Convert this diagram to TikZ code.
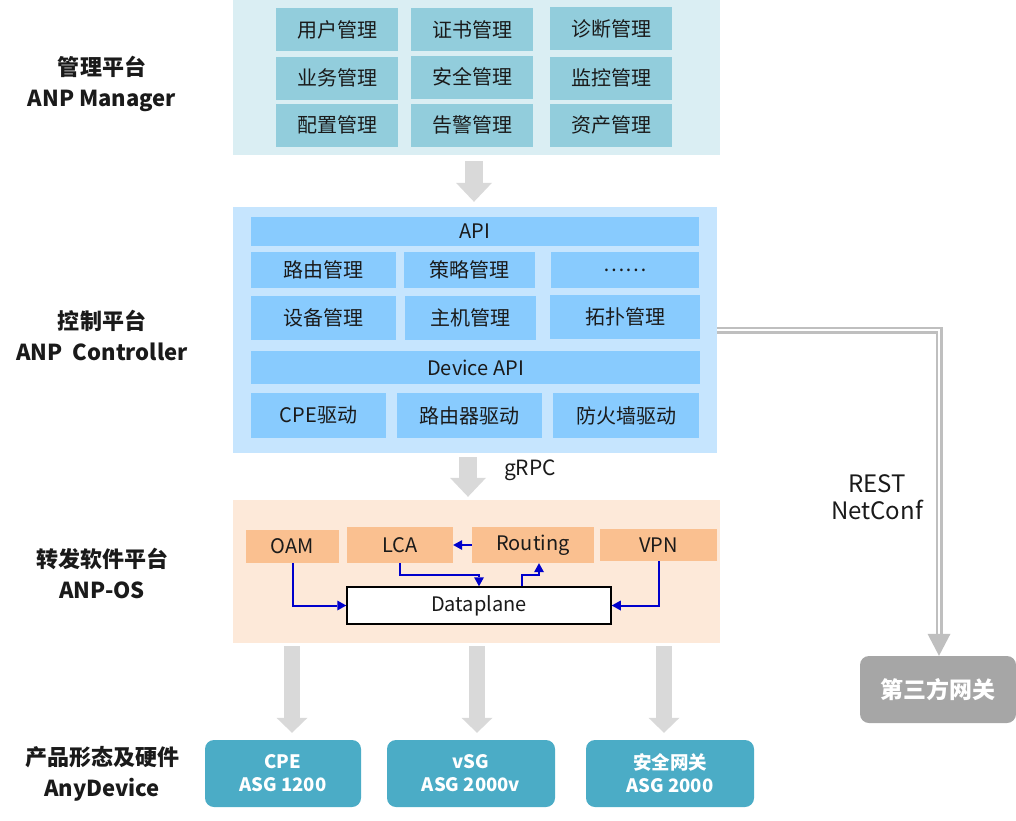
\documentclass[tikz,border=0pt]{standalone}
\usepackage{fontspec}
\setmainfont{Noto Sans CJK SC}
\usetikzlibrary{arrows.meta,calc,positioning}
\definecolor{mgrback}{HTML}{DAEEF3}
\definecolor{mgrfill}{HTML}{92CDDC}
\definecolor{ctlback}{HTML}{C6E5FE}
\definecolor{ctlfill}{HTML}{88CBFE}
\definecolor{osback}{HTML}{FDE9D9}
\definecolor{osfill}{HTML}{FAC090}
\definecolor{devfill}{HTML}{4BACC6}
\definecolor{gwfill}{HTML}{A6A6A6}
\definecolor{arrowgray}{HTML}{D9D9D9}
\definecolor{restgray}{HTML}{BFBFBF}
\definecolor{flowblue}{HTML}{0000CC}
\definecolor{txt}{HTML}{1A1A1A}

\begin{document}
\begin{tikzpicture}[x=1pt, y=-1pt,
	panel/.style={rectangle, inner sep=0pt},
	mod/.style={rectangle, inner sep=0pt, text=txt, font=\fontsize{20}{24}\selectfont},
	mgrmod/.style={mod, fill=mgrfill, minimum width=122pt, minimum height=43pt},
	ctlmod/.style={mod, fill=ctlfill},
	osmod/.style={mod, fill=osfill},
	tier/.style={align=center, text=txt, font=\bfseries\fontsize{22}{31}\selectfont},
	dev/.style={rectangle, rounded corners=9pt, fill=devfill, text=white, align=center, minimum height=67pt, font=\bfseries\fontsize{18.5}{23}\selectfont},
	bigarrow/.style={arrowgray, line width=18pt, -{Triangle[width=36pt,length=19pt,line width=0pt]}},
	downarrow/.style={arrowgray, line width=16pt, -{Triangle[width=31pt,length=15pt,line width=0pt]}},
	flow/.style={flowblue, line width=2pt, -{Triangle[width=10pt,length=9pt,line width=0pt]}},
	restline/.style={draw=restgray, line width=2.2pt, double=white, double distance=2.6pt},
	]
	\useasboundingbox (0,0) rectangle (1016,820);

	% tier labels
	\node[tier] (tmgr) at (102,83.5) {管理平台\\ANP Manager};
	\node[tier] (tctl) at (102,335.5) {控制平台\\ANP\ \ Controller};
	\node[tier] (tos) at (102,573.5) {转发软件平台\\ANP-OS};
	\node[tier] (tdev) at (102,773.5) {产品形态及硬件\\AnyDevice};

	% manager
	\node[panel, fill=mgrback, minimum width=487pt, minimum height=155pt] (mgr) at (476.5,77.5) {};
	\node[mgrmod] (user) at (337,29.5) {用户管理};
	\node[mgrmod] (cert) at (472,29.5) {证书管理};
	\node[mgrmod] (diag) at (611,28.5) {诊断管理};
	\node[mgrmod] (svc) at (337,78) {业务管理};
	\node[mgrmod] (sec) at (472,77) {安全管理};
	\node[mgrmod] (mon) at (611,78) {监控管理};
	\node[mgrmod] (conf) at (337,125) {配置管理};
	\node[mgrmod] (alarm) at (472,125) {告警管理};
	\node[mgrmod] (asset) at (611,125) {资产管理};

	% controller
	\node[panel, fill=ctlback, minimum width=484pt, minimum height=246pt] (ctl) at (475,330) {};
	\node[ctlmod, minimum width=448pt, minimum height=29pt] (api) at (475,231.5) {API};
	\node[ctlmod, minimum width=145pt, minimum height=36pt] (route) at (323.5,270) {路由管理};
	\node[ctlmod, minimum width=131pt, minimum height=36pt] (policy) at (469.5,270) {策略管理};
	\node[ctlmod, minimum width=148pt, minimum height=36pt] (more) at (625,270) {……};
	\node[ctlmod, minimum width=145pt, minimum height=44pt] (equip) at (323.5,318) {设备管理};
	\node[ctlmod, minimum width=131pt, minimum height=44pt] (host) at (470.5,318) {主机管理};
	\node[ctlmod, minimum width=150pt, minimum height=44pt] (topo) at (625,317) {拓扑管理};
	\node[ctlmod, minimum width=449pt, minimum height=33pt] (devapi) at (475.5,367.5) {Device API};
	\node[ctlmod, minimum width=135pt, minimum height=45pt] (cpedrv) at (318.5,415.5) {CPE驱动};
	\node[ctlmod, minimum width=145pt, minimum height=45pt] (rtdrv) at (469.5,415.5) {路由器驱动};
	\node[ctlmod, minimum width=146pt, minimum height=45pt] (fwdrv) at (626,415.5) {防火墙驱动};

	% forwarding os
	\node[panel, fill=osback, minimum width=487pt, minimum height=143pt] (os) at (476.5,571.5) {};
	\node[osmod, minimum width=93pt, minimum height=33pt] (oam) at (292.5,546.5) {OAM};
	\node[osmod, minimum width=106pt, minimum height=36pt] (lca) at (400,545) {LCA};
	\node[osmod, minimum width=122pt, minimum height=36pt] (rt) at (533,545) {Routing};
	\node[osmod, minimum width=117pt, minimum height=32pt] (vpn) at (658.5,545) {VPN};
	\node[mod, draw=black, line width=1.5pt, fill=white, minimum width=264pt, minimum height=37pt] (dp) at (479,605.5) {Dataplane};

	\draw[flow] (oam.south) |- (dp.west);
	\draw[flow] (lca.south) -- ++(0,12) -| (dp.north);
	\draw[flow] ([xshift=43pt]dp.north) -- ++(0,-11) -| ([xshift=6pt]rt.south);
	\draw[flow] (rt.west) -- (lca.east);
	\draw[flow] (vpn.south) |- (dp.east);

	% devices
	\node[dev, minimum width=156pt] (cpe) at (283,773.5) {CPE\\ASG 1200};
	\node[dev, minimum width=168pt] (vsg) at (471,773.5) {vSG\\ASG 2000v};
	\node[dev, minimum width=168pt] (secgw) at (670,773.5) {安全网关\\ASG 2000};
	\node[dev, fill=gwfill, minimum width=156pt, font=\bfseries\fontsize{23}{26}\selectfont] (gw) at (938,689.5) {第三方网关};

	% layer arrows
	\draw[bigarrow] ($(mgr.south)+(-2.5,6)$) -- ($(ctl.north)+(-1,-5)$);
	\draw[bigarrow] ($(ctl.south)+(-7,4)$) -- ($(os.north)+(-8.5,-3)$);
	\node[text=txt, font=\fontsize{21}{24}\selectfont] (grpc) at (530,470) {gRPC};
	\draw[downarrow] ($(os.south -| cpe.north)+(9,3)$) -- ($(cpe.north)+(9,-7)$);
	\draw[downarrow] ($(os.south -| vsg.north)+(6,3)$) -- ($(vsg.north)+(6,-7)$);
	\draw[downarrow] ($(os.south -| secgw.north)+(-6,3)$) -- ($(secgw.north)+(-6,-7)$);

	% rest / netconf
	\coordinate (resttip) at ($(gw.north)+(1,-22)$);
	\draw[restline] (ctl.east) -| (resttip);
	\draw[restgray, line width=0.1pt, -{Triangle[width=23pt,length=22pt,line width=0pt]}] (resttip) -- (resttip |- gw.north);
	\node[align=center, text=txt, font=\fontsize{24}{27}\selectfont] (rest) at (877,497) {REST\\NetConf};
\end{tikzpicture}
\end{document}
